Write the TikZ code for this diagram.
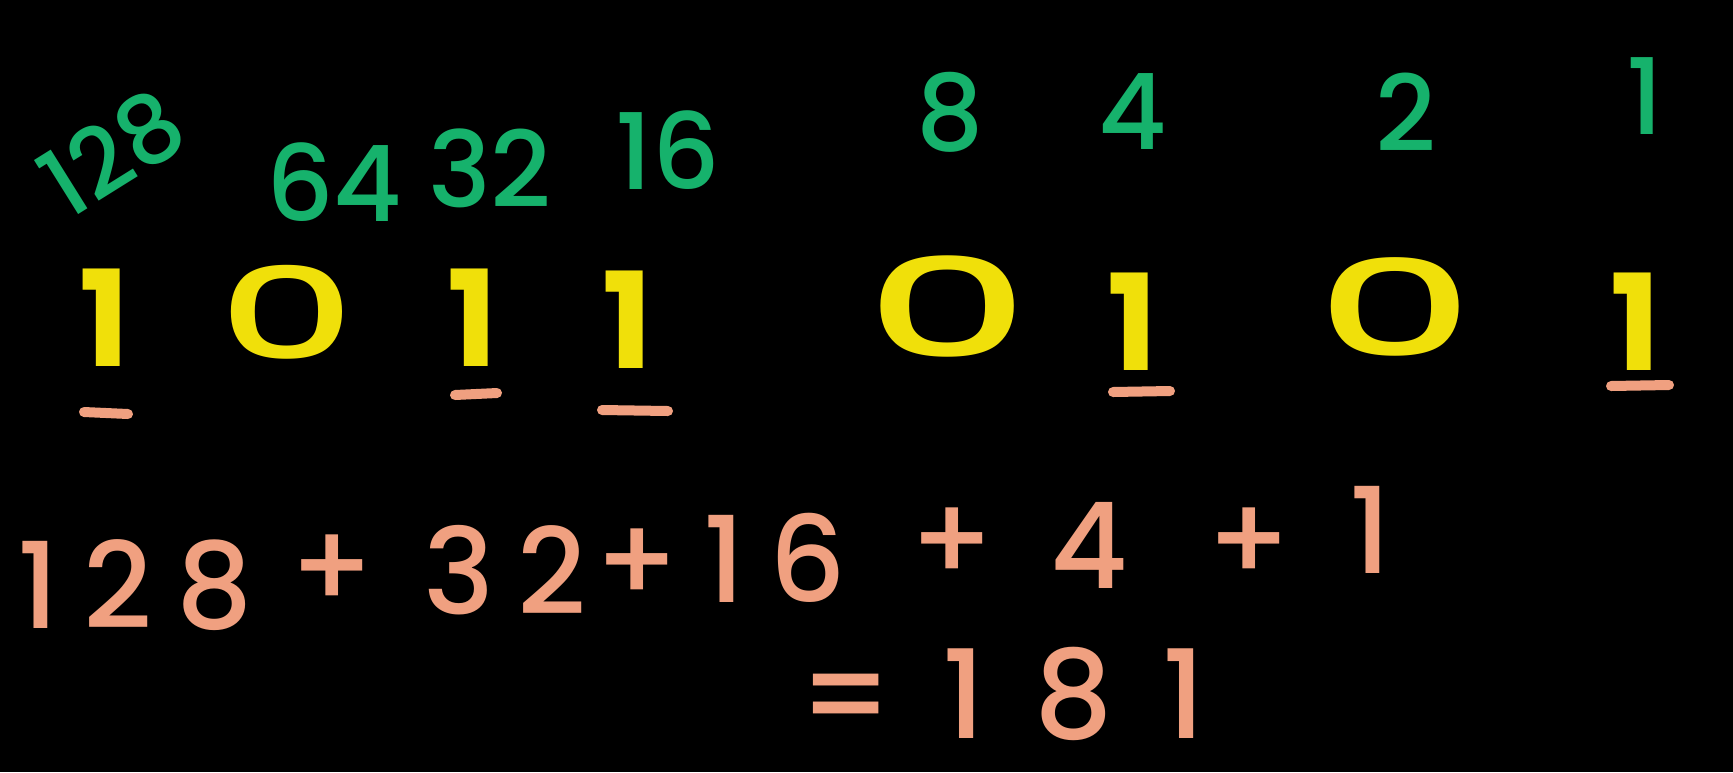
\documentclass[tikz,border=0pt]{standalone}
\usepackage{fontspec}
\setmainfont{Poppins}
\newfontfamily\pmed{Poppins Medium}
\definecolor{gr}{RGB}{22,178,108}
\definecolor{yl}{RGB}{240,224,10}
\definecolor{sa}{RGB}{240,160,128}
\tikzset{
  grn/.style={text=gr,font=\fontsize{30}{32}\selectfont\pmed,inner sep=0pt},
  bit/.style={text=yl,font=\fontsize{38}{40}\selectfont\bfseries,inner sep=0pt},
  zbit/.style={text=yl,font=\fontsize{38}{40}\selectfont\pmed,inner sep=0pt,xscale=1.6,yscale=0.95},
  sal/.style={text=sa,font=\fontsize{34}{36}\selectfont\pmed\addfontfeature{LetterSpace=20},inner sep=0pt},
  ul/.style={draw=sa,line width=0.1cm,line cap=round}
}
\begin{document}
\begin{tikzpicture}[x=0.01cm,y=-0.01cm]
\fill[black] (0,0) rectangle (1733,772);
\useasboundingbox (0,0) rectangle (1733,772);
% weights
\node[grn,rotate=32,font=\fontsize{27}{30}\selectfont\pmed] (w128) at (112,153) {128};
\node[grn] (w64) at (334,182) {64};
\node[grn] (w32) at (490,168) {32};
\node[grn] (w16) at (668,150) {16};
\node[grn] (w8) at (950,112) {8};
\node[grn] (w4) at (1133,112) {4};
\node[grn] (w2) at (1406,112) {2};
\node[grn] (w1) at (1645,96) {1};
% bits
\node[bit] (b1) at (105,318) {1};
\node[zbit] (b2) at (287,312) {0};
\node[bit] (b3) at (473,318) {1};
\node[bit] (b4) at (628,320) {1};
\node[zbit,xscale=1.2,yscale=1.08] (b5) at (948,307) {0};
\node[bit] (b6) at (1133,322) {1};
\node[zbit,xscale=1.15,yscale=1.05] (b7) at (1395,307) {0};
\node[bit] (b8) at (1636,322) {1};
% underlines
\draw[ul] (84,412) -- (128,414);
\draw[ul] (455,395) -- (497,393);
\draw[ul] (602,410) -- (668,411);
\draw[ul] (1113,392) -- (1170,391);
\draw[ul] (1611,386) -- (1669,385);
% sum
\node[sal] (s128) at (135,585) {128};
\node[sal] (p1) at (332,572) {+};
\node[sal] (s32) at (505,570) {32};
\node[sal] (s16) at (720,558) {+16};
\node[sal] (p2) at (952,545) {+};
\node[sal] (s4) at (1089,545) {4};
\node[sal] (p3) at (1249,545) {+};
\node[sal] (s1) at (1370,530) {1};
\node[sal,font=\fontsize{35}{37}\selectfont\pmed\addfontfeature{LetterSpace=40}] (res) at (1002,694) {=181};
\end{tikzpicture}
\end{document}
